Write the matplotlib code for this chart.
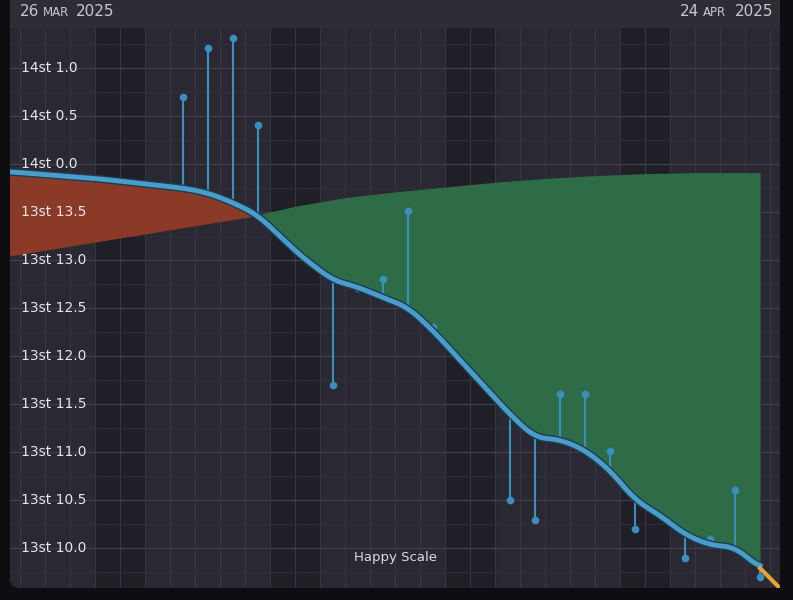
import matplotlib.pyplot as plt
from matplotlib.patches import FancyBboxPatch
import numpy as np

# days since 26 Mar 2025
trend_days = [-0.4, 0, 3, 6.5, 7.5, 8.5, 9.5, 11.2, 12.5, 13.5, 14.5, 15.5, 16.5, 19.6, 20.6,
              21.6, 22.6, 23.6, 24.6, 25.6, 26.6, 27.6, 28.6, 29.6]
trend_lb = [195.92, 195.91, 195.85, 195.75, 195.70, 195.60, 195.47, 195.05, 194.79, 194.72, 194.61,
            194.51, 194.27, 193.39, 193.15, 193.13, 193.02, 192.81, 192.50, 192.34, 192.14, 192.03,
            192.01, 191.79]
meas_days = [6.5, 7.5, 8.5, 9.5, 12.5, 13.5, 14.5, 15.5, 16.5, 19.6, 20.6, 21.6, 22.6, 23.6,
             24.6, 26.6, 27.6, 28.6, 29.6]
meas_lb = [196.70, 197.21, 197.31, 196.41, 193.70, 194.71, 194.80, 195.51, 194.30, 192.50, 192.29,
           193.60, 193.60, 193.01, 192.20, 191.90, 192.09, 192.60, 191.70]
red_low_days = [-0.4, 9.5]
red_low_lb = [195.05, 195.47]
green_days = [9.5, 11, 13, 15, 17, 19, 21, 23, 25, 27, 29.6]
green_top_lb = [195.47, 195.56, 195.65, 195.71, 195.76, 195.81, 195.85, 195.88, 195.90, 195.91, 195.91]
ytick_lb = [197.0, 196.5, 196.0, 195.5, 195.0, 194.5, 194.0, 193.5, 193.0, 192.5, 192.0]
ytick_labels = ["14st 1.0", "14st 0.5", "14st 0.0", "13st 13.5", "13st 13.0", "13st 12.5",
                "13st 12.0", "13st 11.5", "13st 11.0", "13st 10.5", "13st 10.0"]
weekends = [3, 10, 17, 24]

fig = plt.figure(figsize=(7.93, 6), dpi=100)
fig.patch.set_facecolor("#0e0d11")

bg = fig.add_axes([0, 0, 1, 1], zorder=-1)
bg.set_xlim(0, 793)
bg.set_ylim(600, 0)
bg.axis("off")
bg.add_patch(FancyBboxPatch((10, 0), 770, 588, boxstyle="round,pad=0,rounding_size=9",
                            facecolor="#2a2832", edgecolor="none"))
bg.add_patch(plt.Rectangle((10, 0), 770, 28, facecolor="#2e2c35", edgecolor="none"))

ax = fig.add_axes([10 / 793, 12 / 600, 770 / 793, 560 / 600])
ax.set_facecolor("none")
ax.set_xlim(-0.4, 30.4)
ax.set_ylim(191.583, 197.417)
for s in ax.spines.values():
    s.set_visible(False)
ax.set_xticks([])
ax.set_yticks([])

for w in weekends:
    ax.axvspan(w, w + 2, color="#201e26", zorder=0)
for d in range(0, 31):
    ax.axvline(d, color="#393641", lw=0.8, zorder=1)
for v in np.arange(191.75, 197.5, 0.25):
    ax.axhline(v, color="#332f3a", lw=0.6, zorder=1)
for v in ytick_lb:
    ax.axhline(v, color="#423e4a", lw=0.9, zorder=1)

tx = np.linspace(-0.4, 29.6, 400)
ty = np.interp(tx, trend_days, trend_lb)
ty = np.convolve(np.pad(ty, 6, mode="edge"), np.ones(13) / 13, mode="valid")
rm = tx <= 9.5
ax.fill_between(tx[rm], ty[rm], np.interp(tx[rm], red_low_days, red_low_lb), color="#8a3a27", zorder=2)
gm = tx >= 9.5
gtop = np.interp(tx[gm], green_days, green_top_lb)
ax.fill_between(tx[gm], ty[gm], gtop, color="#2e6b47", zorder=2, lw=0)

ax.vlines(meas_days, meas_lb, np.interp(meas_days, tx, ty), color="#3a8fbf", lw=1.5, zorder=3)
ax.plot(meas_days, meas_lb, "o", color="#3a8fbf", ms=4.5, zorder=3)
ax.plot(tx, ty, color="#1b3d55", lw=5.5, zorder=4, solid_capstyle="round")
ax.plot(tx, ty, color="#4a9cc9", lw=3.5, zorder=5)
ax.plot([29.6, 30.4], [191.79, 191.58], color="#e8a33a", lw=3, zorder=5)

for v, lab in zip(ytick_lb, ytick_labels):
    ax.text(0.014, v, lab, transform=ax.get_yaxis_transform(), color="#e8e6ee", fontsize=10,
            va="center", ha="left", zorder=6)
ax.text(0.5, 0.055, "Happy Scale", transform=ax.transAxes, color="#dcdae2", fontsize=9.5,
        ha="center", va="center", zorder=6)

hc = "#c9c7d0"
bg.text(20, 12, "26", color=hc, fontsize=11, va="center")
bg.text(43, 13, "MAR", color=hc, fontsize=8.5, va="center")
bg.text(76, 12, "2025", color=hc, fontsize=11, va="center")
bg.text(680, 12, "24", color=hc, fontsize=11, va="center")
bg.text(703, 13, "APR", color=hc, fontsize=8.5, va="center")
bg.text(735, 12, "2025", color=hc, fontsize=11, va="center")

fig.savefig("out.png", dpi=100, facecolor=fig.get_facecolor())
